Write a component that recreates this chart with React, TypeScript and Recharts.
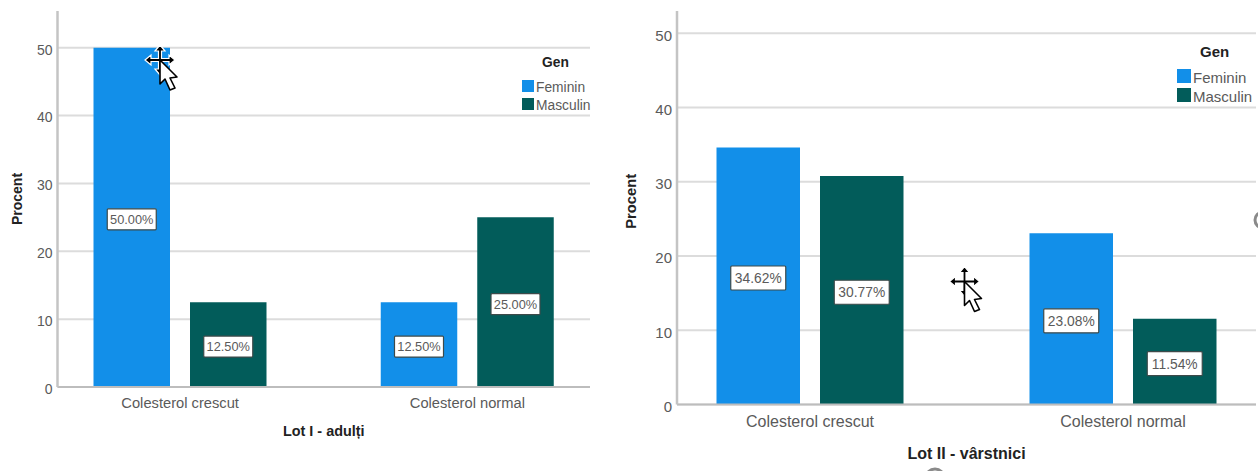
import { BarChart, Bar, XAxis, YAxis, CartesianGrid, Legend, LabelList, Label } from "recharts";

const categories = ["Colesterol crescut", "Colesterol normal"];
const lotIFeminin = [50, 12.5];
const lotIMasculin = [12.5, 25];
const lotIIFeminin = [34.62, 23.08];
const lotIIMasculin = [30.77, 11.54];
const yTicks = [0, 10, 20, 30, 40, 50];

const BLUE = "#128FE9";
const TEAL = "#025C5A";
const FONT = "'Liberation Sans', Arial, sans-serif";

const buildRows = (feminin: number[], masculin: number[]) =>
  categories.map((name, i) => ({ name, Feminin: feminin[i], Masculin: masculin[i] }));

// white value tag sitting in the middle of a bar
const valueTag = (boxW: number, boxH: number, fontSize: number) => (props: any) => {
  const cx = Number(props.x) + Number(props.width) / 2;
  const cy = Number(props.y) + Number(props.height) / 2 + 2;
  return (
    <g>
      <rect x={cx - boxW / 2} y={cy - boxH / 2} width={boxW} height={boxH} fill="#fff" stroke="#3d4a4a" strokeWidth={1.2} rx={1} />
      <text x={cx} y={cy + fontSize * 0.36} textAnchor="middle" fontSize={fontSize} fontFamily={FONT} fill="#5a5a5a">
        {Number(props.value).toFixed(2)}%
      </text>
    </g>
  );
};

const GenLegend = ({ payload, titleX, titleY, rowH, swatch, fontSize }: any) => (
  <div style={{ position: "relative", fontFamily: FONT }}>
    <div style={{ position: "absolute", left: titleX, top: titleY, fontSize, fontWeight: 700, color: "#222", lineHeight: "18px" }}>
      Gen
    </div>
    {(payload || []).map((entry: any, i: number) => (
      <div key={entry.value} style={{ position: "absolute", left: 0, top: 26 + i * rowH, display: "flex", alignItems: "center", whiteSpace: "nowrap" }}>
        <span style={{ width: swatch, height: swatch, background: entry.color, marginRight: 2 }} />
        <span style={{ fontSize, color: "#5a5a5a", lineHeight: `${swatch}px`, position: "relative", top: 2 }}>{entry.value}</span>
      </div>
    ))}
  </div>
);

const LotChart = ({ rows, title, left, width, plotLeft, plotRight, plotBottom, yMax, barSize, pad, fonts, tagW, tagH, legend, titleOffset, sideOffset, sideDy, tickMargin }: any) => (
  <div style={{ position: "absolute", left, top: 0 }}>
    <BarChart
      width={width}
      height={471}
      data={rows}
      barSize={barSize}
      barGap={20}
      margin={{ top: 11, right: width - plotRight, bottom: 0, left: 0 }}
    >
      <CartesianGrid vertical={false} horizontalValues={yTicks} stroke="#dcdcdc" strokeWidth={2} />
      <XAxis
        dataKey="name"
        padding={{ left: pad, right: pad }}
        height={471 - plotBottom}
        interval={0}
        tickLine={false}
        tickSize={0}
        tickMargin={tickMargin}
        axisLine={{ stroke: "#bdbdbd", strokeWidth: 2 }}
        tick={{ fontSize: fonts.xTick, fill: "#5a5a5a", fontFamily: FONT }}
      >
        <Label
          value={title}
          position="insideBottom"
          offset={titleOffset}
          style={{ fontSize: fonts.title, fontWeight: 700, fill: "#222", fontFamily: FONT }}
        />
      </XAxis>
      <YAxis
        width={plotLeft}
        domain={[0, yMax]}
        ticks={yTicks}
        tickLine={false}
        tickSize={0}
        tickMargin={5}
        axisLine={{ stroke: "#c4c4c4", strokeWidth: 2.5 }}
        tick={{ fontSize: fonts.yTick, fill: "#5a5a5a", fontFamily: FONT, dy: 2 }}
      >
        <Label
          value="Procent"
          angle={-90}
          position="insideLeft"
          offset={sideOffset}
          dy={sideDy}
          style={{ fontSize: fonts.side, fontWeight: 700, fill: "#222", fontFamily: FONT, textAnchor: "middle" }}
        />
      </YAxis>
      <Legend
        layout="vertical"
        align="center"
        verticalAlign="middle"
        wrapperStyle={{ left: legend.x, top: legend.y, width: 80, height: 60 }}
        content={(p: any) => (
          <GenLegend payload={p.payload} titleX={legend.titleX} titleY={legend.titleY} rowH={legend.rowH} swatch={legend.swatch} fontSize={fonts.legend} />
        )}
      />
      <Bar dataKey="Feminin" fill={BLUE} isAnimationActive={false}>
        <LabelList dataKey="Feminin" content={valueTag(tagW, tagH, fonts.tag)} />
      </Bar>
      <Bar dataKey="Masculin" fill={TEAL} isAnimationActive={false}>
        <LabelList dataKey="Masculin" content={valueTag(tagW, tagH, fonts.tag)} />
      </Bar>
    </BarChart>
  </div>
);

// screen-capture mouse pointer with the four-way move arrows behind it
const MovePointer = ({ x, y }: { x: number; y: number }) => (
  <g transform={`translate(${x} ${y})`}>
    <path d="M0 -15 L5 -9 L1.5 -9 L1.5 -1.5 L9 -1.5 L9 -5 L15 0 L9 5 L9 1.5 L1.5 1.5 L1.5 9 L5 9 L0 15 L-5 9 L-1.5 9 L-1.5 1.5 L-9 1.5 L-9 5 L-15 0 L-9 -5 L-9 -1.5 L-1.5 -1.5 L-1.5 -9 L-5 -9 Z" fill="#000" stroke="#fff" strokeWidth={1.2} />
    <path d="M0 0 L0 24 L5 19 L10 30 L15 28 L10 18 L17 17 Z" fill="#fff" stroke="#000" strokeWidth={1.6} strokeLinejoin="round" />
  </g>
);

export default function App() {
  return (
    <div style={{ position: "absolute", left: 0, top: 0, width: 1258, height: 471, background: "#fff", overflow: "hidden" }}>
      <LotChart
        rows={buildRows(lotIFeminin, lotIMasculin)}
        title="Lot I - adulți"
        left={0}
        width={610}
        plotLeft={57.5}
        plotRight={590}
        plotBottom={387}
        yMax={55.4}
        barSize={76.5}
        pad={-21}
        fonts={{ xTick: 14.7, yTick: 14, title: 14.4, side: 14, legend: 13.8, tag: 12.8 }}
        tagW={49}
        tagH={21}
        tickMargin={11}
        titleOffset={35}
        sideOffset={17}
        sideDy={0}
        legend={{ x: 522, y: 54, titleX: 20, titleY: 0, rowH: 17.5, swatch: 12 }}
      />
      <LotChart
        rows={buildRows(lotIIFeminin, lotIIMasculin)}
        title="Lot II - vârstnici"
        left={620}
        width={638}
        plotLeft={57}
        plotRight={636}
        plotBottom={404.5}
        yMax={53}
        barSize={83.5}
        pad={-23.5}
        fonts={{ xTick: 16, yTick: 15, title: 16, side: 14.8, legend: 15, tag: 13.8 }}
        tagW={55}
        tagH={24}
        tickMargin={11}
        titleOffset={12}
        sideOffset={11}
        sideDy={-6.5}
        legend={{ x: 557, y: 43, titleX: 23, titleY: 0, rowH: 19, swatch: 14 }}
      />
      <svg width={1258} height={471} style={{ position: "absolute", left: 0, top: 0, pointerEvents: "none" }}>
        <MovePointer x={160} y={60} />
        <MovePointer x={964.5} y={281.5} />
        <circle cx={1263} cy={220} r={8} fill="none" stroke="#8a8a8a" strokeWidth={3} />
        <circle cx={935} cy={478} r={9} fill="none" stroke="#8a8a8a" strokeWidth={3} />
      </svg>
    </div>
  );
}
